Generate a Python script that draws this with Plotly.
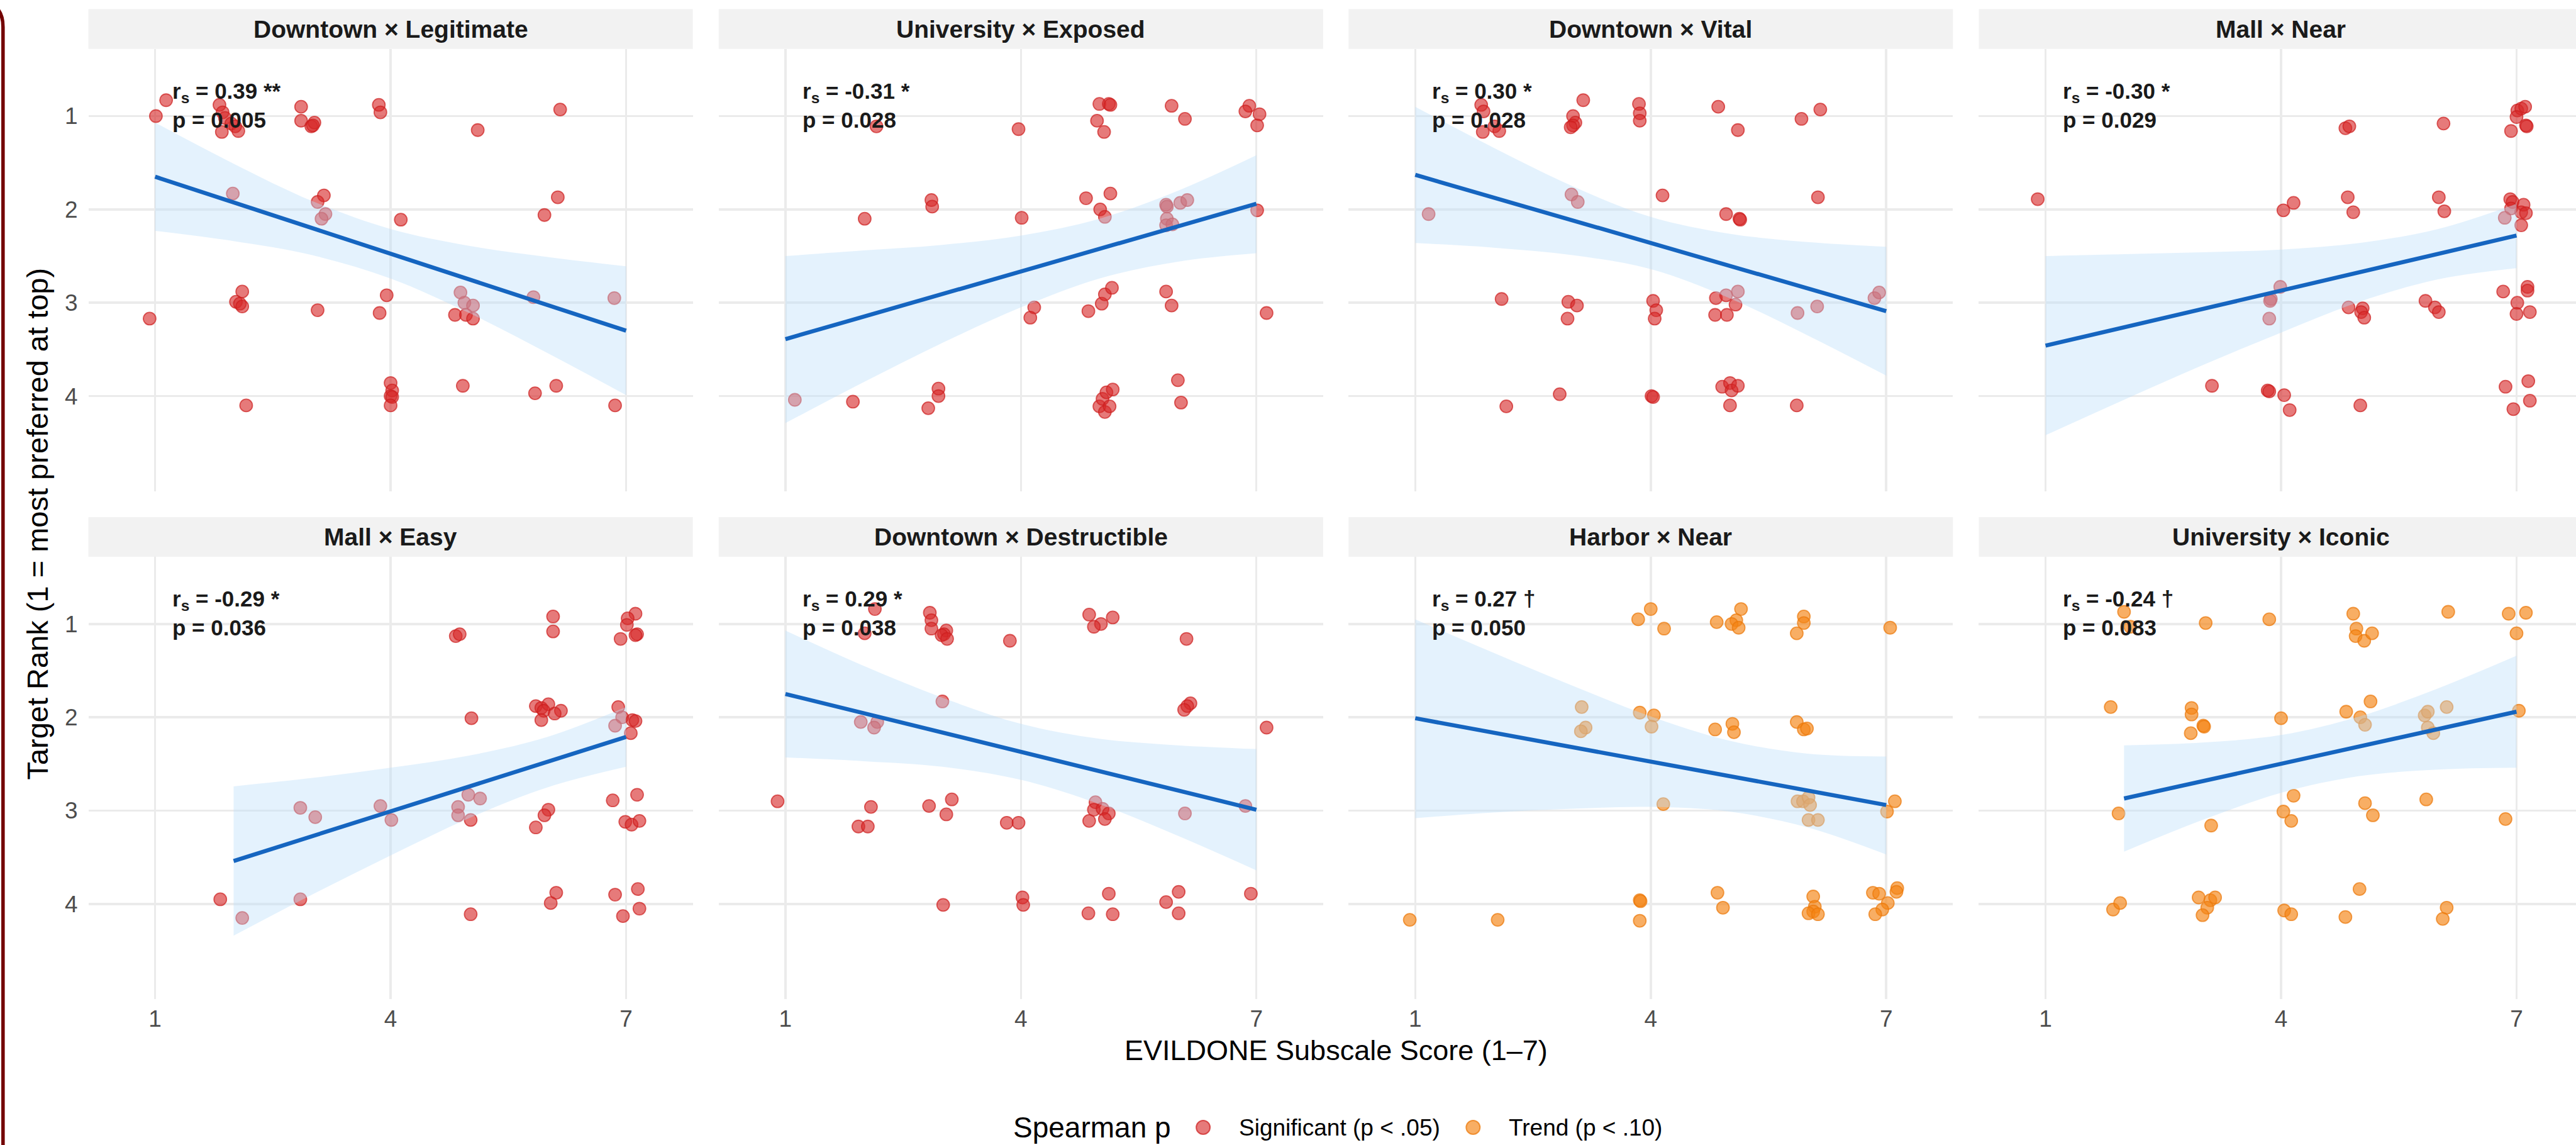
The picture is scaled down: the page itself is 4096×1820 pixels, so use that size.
import plotly.graph_objects as go

FONT = "Liberation Sans, Arial, Helvetica, sans-serif"

# ---------------- data ----------------
panel_titles = ["Downtown × Legitimate", "University × Exposed", "Downtown × Vital", "Mall × Near",
                "Mall × Easy", "Downtown × Destructible", "Harbor × Near", "University × Iconic"]
rs_labels = ["0.39 **", "-0.31 *", "0.30 *", "-0.30 *", "-0.29 *", "0.29 *", "0.27 †", "-0.24 †"]
p_labels = ["0.005", "0.028", "0.028", "0.029", "0.036", "0.038", "0.050", "0.083"]
panel_group = ["sig", "sig", "sig", "sig", "sig", "sig", "trend", "trend"]
group_names = {"sig": "Significant (p < .05)", "trend": "Trend (p < .10)"}
x_ticks = [1, 4, 7]
y_ticks = [1, 2, 3, 4]

# jittered observations (score, rank)
pts_downtown_legit = [(1.14,0.83),(1.01,1.00),(1.82,0.88),(1.86,0.96),(1.89,1.02),(1.97,1.08),(2.02,1.11),(1.85,1.17),(2.06,1.16),
    (2.86,0.90),(2.86,1.05),(2.99,1.11),(3.03,1.07),(3.01,1.10),(3.85,0.88),(3.87,0.96),(5.11,1.15),(6.16,0.93),
    (1.99,1.83),(3.15,1.85),(3.07,1.92),(3.17,2.05),(3.12,2.10),(4.13,2.11),(6.13,1.87),(5.96,2.06),
    (0.93,3.17),(2.11,2.88),(2.03,2.99),(2.08,3.01),(2.11,3.04),(3.07,3.08),(3.95,2.92),(3.86,3.11),(4.89,2.89),(4.94,3.00),
    (5.05,3.03),(4.82,3.13),(4.96,3.13),(5.05,3.17),(5.82,2.94),(6.85,2.95),
    (2.16,4.10),(4.00,3.86),(4.02,3.94),(4.00,4.00),(4.02,4.01),(4.00,4.10),(4.92,3.89),(5.84,3.97),(6.11,3.89),(6.86,4.10)]
pts_university_exposed = [(2.16,1.11),(3.97,1.14),(5.00,0.87),(5.12,0.87),(5.14,0.88),(4.97,1.05),(5.06,1.17),(5.92,0.89),(6.09,1.03),
    (6.91,0.89),(6.86,0.95),(7.04,0.98),(7.01,1.10),(2.01,2.10),(2.86,1.90),(2.87,1.97),(4.01,2.09),(4.83,1.88),(5.14,1.83),
    (5.01,2.00),(5.07,2.08),(5.85,1.95),(5.86,1.97),(6.03,1.93),(6.12,1.90),(5.86,2.10),(5.85,2.17),(5.93,2.16),(7.01,2.01),
    (4.17,3.05),(4.12,3.16),(4.86,3.09),(5.03,3.01),(5.07,2.91),(5.16,2.84),(5.85,2.88),(5.92,3.03),(7.13,3.11),
    (1.12,4.04),(1.86,4.06),(2.82,4.13),(2.95,3.92),(2.95,4.00),(5.00,4.11),(5.07,4.17),(5.04,4.03),(5.09,3.96),(5.17,3.93),
    (5.13,4.11),(6.00,3.83),(6.04,4.07)]
pts_downtown_vital = [(1.84,0.88),(1.87,0.95),(2.01,1.11),(1.86,1.17),(2.07,1.16),(3.14,0.83),(3.01,1.00),(3.04,1.07),(3.01,1.10),
    (2.98,1.12),(3.85,0.87),(3.86,0.97),(3.86,1.05),(4.86,0.90),(5.11,1.15),(5.92,1.03),(6.16,0.93),
    (1.17,2.05),(2.99,1.84),(3.07,1.92),(4.15,1.85),(4.96,2.05),(5.13,2.10),(5.14,2.11),(6.13,1.87),
    (2.10,2.96),(2.95,2.99),(3.06,3.03),(2.94,3.17),(4.03,2.98),(4.07,3.08),(4.05,3.17),(4.83,2.95),(4.96,2.92),(5.11,2.88),
    (5.08,3.02),(4.82,3.13),(4.97,3.13),(5.87,3.11),(6.12,3.04),(6.85,2.95),(6.91,2.89),
    (2.16,4.11),(2.84,3.98),(4.01,4.00),(4.03,4.01),(4.91,3.90),(5.01,3.86),(5.03,3.94),(5.11,3.89),(5.01,4.10),(5.86,4.10)]
pts_mall_near = [(0.90,1.89),(4.82,1.13),(4.87,1.11),(6.07,1.08),(7.01,0.94),(7.06,0.92),(7.11,0.90),(7.00,1.01),(6.93,1.16),
    (7.12,1.10),(7.13,1.11),(4.03,2.01),(4.16,1.93),(4.85,1.87),(4.92,2.03),(6.01,1.87),(6.08,2.02),(6.92,1.89),(6.95,1.92),
    (7.09,1.95),(7.06,2.03),(7.12,2.04),(6.93,1.99),(6.85,2.09),(7.06,2.17),
    (3.99,2.83),(3.87,2.96),(3.86,2.98),(3.85,3.17),(4.86,3.05),(5.04,3.06),(5.02,3.10),(5.06,3.16),(5.84,2.98),(5.96,3.05),
    (6.01,3.10),(6.83,2.88),(7.14,2.83),(7.14,2.87),(7.01,3.00),(7.00,3.12),(7.17,3.10),
    (3.12,3.89),(3.83,3.94),(3.85,3.95),(4.04,3.99),(4.11,4.15),(5.01,4.10),(6.86,3.90),(7.15,3.84),(7.17,4.05),(6.96,4.14)]
pts_mall_easy = [(4.83,1.13),(4.88,1.11),(6.07,0.92),(6.07,1.08),(7.12,0.89),(7.02,0.94),(7.01,1.01),(6.93,1.16),(7.14,1.11),
    (7.12,1.12),(5.03,2.01),(5.85,1.88),(5.92,1.90),(6.01,1.86),(5.95,1.93),(6.17,1.93),(6.09,1.96),(5.92,2.03),(6.90,1.89),
    (6.95,2.00),(6.86,2.09),(7.08,2.03),(7.12,2.04),(7.06,2.17),
    (1.83,3.95),(2.11,4.15),(2.85,2.97),(3.04,3.07),(2.85,3.95),(3.87,2.95),(4.01,3.10),(4.99,2.83),(5.14,2.87),(4.86,2.96),
    (4.86,3.05),(5.02,3.10),(6.01,2.99),(5.96,3.05),(5.85,3.18),(6.83,2.89),(7.14,2.83),(6.99,3.12),(7.07,3.15),(7.17,3.11),
    (5.02,4.11),(6.11,3.88),(6.04,3.99),(6.86,3.90),(6.96,4.13),(7.15,3.84),(7.17,4.05)]
pts_downtown_destr = [(2.14,0.84),(2.01,1.10),(2.84,0.88),(2.86,0.96),(2.86,1.05),(3.05,1.07),(3.02,1.11),(2.99,1.12),(3.06,1.16),
    (3.86,1.18),(4.87,0.90),(5.17,0.93),(5.02,1.00),(4.93,1.03),(6.11,1.16),
    (3.00,1.83),(1.96,2.05),(2.17,2.05),(2.13,2.11),(6.16,1.85),(6.12,1.88),(6.08,1.92),(7.13,2.11),
    (0.90,2.90),(2.09,2.96),(1.93,3.17),(2.05,3.17),(2.83,2.95),(3.12,2.88),(3.05,3.04),(3.82,3.13),(3.97,3.13),(4.95,2.91),
    (4.93,2.99),(5.04,2.98),(5.12,3.03),(5.07,3.09),(4.87,3.11),(6.09,3.03),(6.86,2.95),
    (3.01,4.01),(4.02,3.93),(4.03,4.01),(4.86,4.10),(5.12,3.89),(5.17,4.11),(5.85,3.98),(6.01,3.87),(6.01,4.10),(6.93,3.89)]
pts_harbor_near = [(3.84,0.95),(4.00,0.84),(4.17,1.05),(4.84,0.98),(5.15,0.84),(5.09,0.96),(5.03,1.00),(5.12,1.04),(5.95,0.92),
    (5.95,0.99),(5.86,1.10),(7.05,1.04),(3.12,1.89),(3.17,2.11),(3.11,2.15),(3.86,1.95),(4.04,1.98),(4.01,2.10),(4.82,2.13),
    (5.04,2.07),(5.06,2.16),(5.86,2.05),(5.95,2.13),(5.99,2.12),
    (4.16,2.93),(5.87,2.90),(5.94,2.90),(6.01,2.86),(6.03,2.94),(6.01,3.10),(6.13,3.10),(7.11,2.90),(7.01,3.01),
    (0.93,4.17),(2.05,4.17),(3.86,3.96),(3.87,3.97),(3.86,4.18),(4.85,3.88),(4.92,4.04),(6.07,3.92),(6.09,4.03),(6.07,4.08),
    (6.01,4.10),(6.13,4.11),(6.83,3.88),(6.91,3.89),(7.14,3.83),(7.13,3.87),(7.02,3.99),(6.95,4.06),(6.86,4.11)]
pts_university_iconic = [(2.00,0.87),(2.08,1.03),(3.04,0.99),(3.85,0.95),(4.92,0.89),(4.96,1.05),(4.95,1.13),(5.06,1.18),(5.16,1.10),
    (6.13,0.87),(6.90,0.89),(7.12,0.88),(7.00,1.10),(1.83,1.89),(2.86,1.90),(2.86,1.97),(3.01,2.09),(3.02,2.10),(2.85,2.17),
    (4.00,2.01),(4.83,1.94),(5.14,1.83),(5.01,2.00),(5.07,2.08),(5.83,1.98),(5.87,1.94),(6.11,1.89),(5.87,2.11),(5.94,2.17),
    (7.03,1.93),(1.93,3.03),(3.11,3.16),(4.03,3.01),(4.13,3.11),(4.16,2.84),(5.07,2.92),(5.17,3.05),(5.85,2.88),(6.86,3.09),
    (1.86,4.06),(1.95,3.99),(2.95,3.93),(3.10,3.96),(3.16,3.93),(3.06,4.04),(3.00,4.12),(4.04,4.07),(4.13,4.11),(4.82,4.14),
    (5.00,3.84),(6.11,4.04),(6.06,4.16)]

# linear fit (end points) and 95% band
fit_x0 = [1, 1, 1, 1, 2, 1, 1, 2]
fit_x1 = [7, 7, 7, 7, 7, 7, 7, 7]
fit_y0 = [1.65, 3.39, 1.63, 3.46, 3.54, 1.75, 2.01, 2.87]
fit_y1 = [3.30, 1.94, 3.09, 2.28, 2.21, 2.99, 2.94, 1.94]
band_x_full = [1, 2, 3, 4, 5, 6, 7]
band_x_short = [2, 3, 4, 5, 6, 7]
band_lo = [
    [1.07, 1.51, 1.91, 2.21, 2.39, 2.51, 2.61],
    [2.50, 2.44, 2.38, 2.28, 2.10, 1.80, 1.42],
    [0.90, 1.34, 1.75, 2.08, 2.26, 2.35, 2.40],
    [2.50, 2.48, 2.46, 2.43, 2.36, 2.21, 1.94],
    [2.74, 2.65, 2.54, 2.41, 2.21, 1.89],
    [1.07, 1.45, 1.79, 2.07, 2.23, 2.30, 2.34],
    [0.95, 1.31, 1.66, 1.99, 2.25, 2.39, 2.42],
    [2.30, 2.27, 2.19, 1.99, 1.69, 1.34],
]
band_hi = [
    [2.23, 2.34, 2.49, 2.74, 3.11, 3.54, 3.99],
    [4.29, 3.85, 3.43, 3.05, 2.74, 2.56, 2.47],
    [2.36, 2.41, 2.49, 2.64, 2.95, 3.35, 3.78],
    [4.42, 4.04, 3.67, 3.32, 2.99, 2.75, 2.63],
    [4.34, 3.90, 3.48, 3.08, 2.75, 2.53],
    [2.43, 2.47, 2.53, 2.67, 2.93, 3.27, 3.64],
    [3.08, 3.02, 2.98, 2.96, 3.01, 3.18, 3.47],
    [3.44, 3.10, 2.81, 2.63, 2.56, 2.54],
]

panel_points = [pts_downtown_legit, pts_university_exposed, pts_downtown_vital, pts_mall_near,
                pts_mall_easy, pts_downtown_destr, pts_harbor_near, pts_university_iconic]

# ---------------- styling / layout ----------------
W, H = 4096, 1820
REF_W, REF_H = 6012.0, 2671.0
def px(x):
    return x / REF_W
def py(y):
    return 1 - y / REF_H

FILL = {"sig": "rgba(214,40,40,0.62)", "trend": "rgba(245,132,20,0.66)"}
EDGE = {"sig": "rgba(205,30,30,0.70)", "trend": "rgba(235,120,10,0.72)"}
BAND = "rgba(187,222,251,0.40)"
LINE = "#1565C0"
GRID = "#EBEBEB"
STRIP = "#F2F2F2"

col_left = [206.3, 1677.3, 3147.3, 4618.3]
panel_w = 1410.6
row_top = [114.0, 1298.8]
panel_h = 1032.0
strip_h = 92.6
X_RANGE = [0.15, 7.85]
Y_RANGE = [5.02, 0.28]

fig = go.Figure()
layout = dict(
    width=W, height=H,
    margin=dict(l=0, r=0, t=0, b=0),
    paper_bgcolor="white", plot_bgcolor="rgba(0,0,0,0)",
    showlegend=False,
    font=dict(family=FONT, color="#1A1A1A"),
)
shapes = []
annotations = []

for i in range(8):
    r, c = divmod(i, 4)
    sfx = "" if i == 0 else str(i + 1)
    xa, ya = "x" + sfx, "y" + sfx
    grp = panel_group[i]
    pts = panel_points[i]

    fig.add_trace(go.Scatter(
        x=[p[0] for p in pts], y=[p[1] for p in pts], mode="markers",
        marker=dict(size=20, color=FILL[grp], line=dict(color=EDGE[grp], width=1.8)),
        xaxis=xa, yaxis=ya, hoverinfo="skip", name=group_names[grp]))
    bx = band_x_full if len(band_lo[i]) == 7 else band_x_short
    fig.add_trace(go.Scatter(
        x=bx, y=band_lo[i], mode="lines",
        line=dict(width=0, shape="spline", color="rgba(0,0,0,0)"),
        xaxis=xa, yaxis=ya, hoverinfo="skip"))
    fig.add_trace(go.Scatter(
        x=bx, y=band_hi[i], mode="lines", fill="tonexty", fillcolor=BAND,
        line=dict(width=0, shape="spline", color="rgba(0,0,0,0)"),
        xaxis=xa, yaxis=ya, hoverinfo="skip"))
    fig.add_trace(go.Scatter(
        x=[fit_x0[i], fit_x1[i]], y=[fit_y0[i], fit_y1[i]], mode="lines",
        line=dict(color=LINE, width=6.5),
        xaxis=xa, yaxis=ya, hoverinfo="skip"))

    left = col_left[c]
    right = min(left + panel_w, REF_W)
    xr = [X_RANGE[0], X_RANGE[0] + (right - left) / panel_w * (X_RANGE[1] - X_RANGE[0])]
    top = row_top[r]
    bottom = top + panel_h

    layout["xaxis" + sfx] = dict(
        domain=[px(left), px(right)], range=xr, anchor=ya,
        tickmode="array", tickvals=x_ticks, ticktext=[str(v) for v in x_ticks],
        showticklabels=(r == 1), ticks="", ticklabelstandoff=6,
        tickfont=dict(family=FONT, size=37, color="#4D4D4D"),
        showgrid=True, gridcolor=GRID, gridwidth=3.5, zeroline=False, showline=False,
        fixedrange=True)
    layout["yaxis" + sfx] = dict(
        domain=[py(bottom), py(top)], range=Y_RANGE, anchor=xa,
        tickmode="array", tickvals=y_ticks, ticktext=[str(v) for v in y_ticks],
        showticklabels=(c == 0), ticks="", ticklabelstandoff=16,
        tickfont=dict(family=FONT, size=37, color="#4D4D4D"),
        showgrid=True, gridcolor=GRID, gridwidth=3.5, zeroline=False, showline=False,
        fixedrange=True)

    # strip
    shapes.append(dict(type="rect", xref="paper", yref="paper",
                       x0=px(left), x1=px(right), y0=py(top), y1=py(top - strip_h),
                       fillcolor=STRIP, line=dict(width=0), layer="below"))
    annotations.append(dict(xref="paper", yref="paper",
                            x=px(left + panel_w / 2), y=py(top - strip_h / 2),
                            text="<b>" + panel_titles[i] + "</b>", showarrow=False,
                            xanchor="center", yanchor="middle",
                            font=dict(family=FONT, size=39, color="#1A1A1A")))
    # statistics label
    annotations.append(dict(xref=xa, yref=ya, x=1.2, y=0.885,
                            text="<b>r<sub>s</sub> = " + rs_labels[i] + "<br>p = " + p_labels[i] + "</b>",
                            showarrow=False, xanchor="left", yanchor="middle", align="left",
                            font=dict(family=FONT, size=35, color="#1A1A1A")))

# axis titles
annotations.append(dict(xref="paper", yref="paper", x=px(88), y=py(1222),
                        text="Target Rank (1 = most preferred at top)", textangle=-90,
                        showarrow=False, xanchor="center", yanchor="middle",
                        font=dict(family=FONT, size=47, color="#000000")))
annotations.append(dict(xref="paper", yref="paper", x=px(3118), y=py(2450),
                        text="EVILDONE Subscale Score (1–7)",
                        showarrow=False, xanchor="center", yanchor="middle",
                        font=dict(family=FONT, size=45, color="#000000")))

# legend (drawn manually on a full-figure overlay axis)
leg_y = 28.0 / H
layout["xaxis9"] = dict(domain=[0, 1], range=[0, 1], visible=False, fixedrange=True, anchor="y9")
layout["yaxis9"] = dict(domain=[0, 1], range=[0, 1], visible=False, fixedrange=True, anchor="x9")
leg_marker_x = [px(2808), px(3438)]
fig.add_trace(go.Scatter(
    x=leg_marker_x, y=[leg_y, leg_y], mode="markers",
    marker=dict(size=22, color=[FILL["sig"], FILL["trend"]],
                line=dict(color=[EDGE["sig"], EDGE["trend"]], width=2)),
    xaxis="x9", yaxis="y9", hoverinfo="skip", cliponaxis=False))
annotations.append(dict(xref="paper", yref="paper", x=px(2361), y=leg_y, text="Spearman p",
                        showarrow=False, xanchor="left", yanchor="middle",
                        font=dict(family=FONT, size=46, color="#000000")))
annotations.append(dict(xref="paper", yref="paper", x=px(2889), y=leg_y, text=group_names["sig"],
                        showarrow=False, xanchor="left", yanchor="middle",
                        font=dict(family=FONT, size=37, color="#000000")))
annotations.append(dict(xref="paper", yref="paper", x=px(3518), y=leg_y, text=group_names["trend"],
                        showarrow=False, xanchor="left", yanchor="middle",
                        font=dict(family=FONT, size=37, color="#000000")))

# dark red frame edge at the far left
ex, r0, yt = 4.8, 40.0, 3.0
path = "M {a},{b} L {c},{b} Q {d},{b} {d},{e} L {d},{f}".format(
    a=(ex - 80) / W, b=1 - yt / H, c=(ex - r0) / W, d=ex / W, e=1 - (yt + r0) / H, f=-0.05)
shapes.append(dict(type="path", xref="paper", yref="paper", path=path,
                   line=dict(color="#730000", width=5.5), layer="above"))

layout["shapes"] = shapes
layout["annotations"] = annotations
fig.update_layout(**layout)

fig.write_html("out.html", include_plotlyjs=True, full_html=True,
               config={"displayModeBar": False, "staticPlot": True},
               post_script="document.body.style.margin='0';document.body.style.overflow='hidden';")
